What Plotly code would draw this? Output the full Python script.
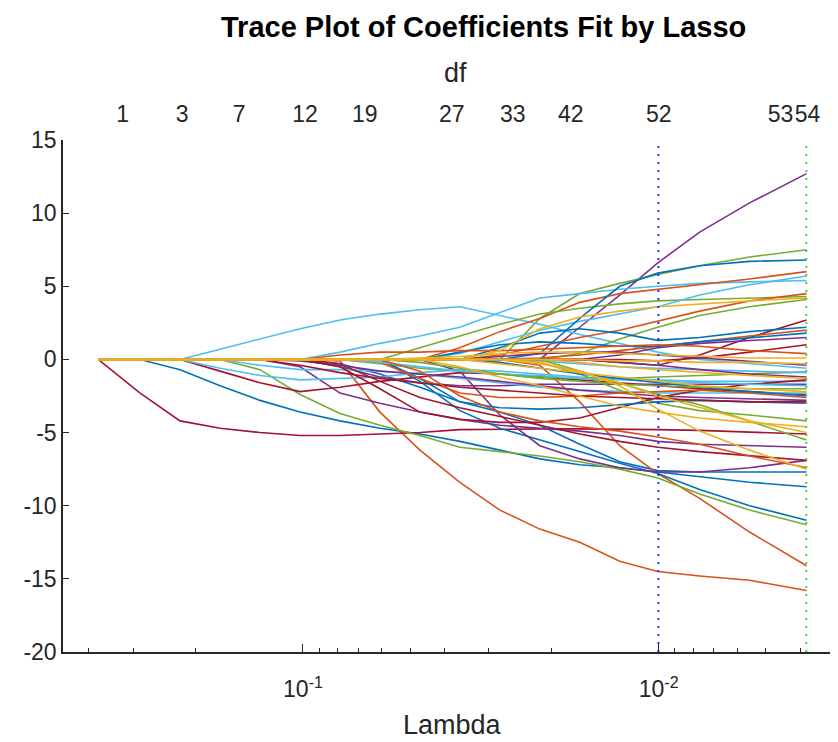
import plotly.graph_objects as go

# lambda values where the coefficient paths are sampled (largest -> smallest)
lambda_grid = [0.3765, 0.2870, 0.2216, 0.1710, 0.1321, 0.1019, 0.07871, 0.06076, 0.04690,
               0.03622, 0.02796, 0.02159, 0.01667, 0.01287, 0.01006, 0.00767, 0.005552, 0.00384]

# coefficient paths, one per predictor
b01 = [0, 0, -0.7, -1.8, -2.8, -3.6, -4.2, -4.7, -5.1, -5.6, -6.2, -6.8, -7.2, -7.4, -7.7, -8.0, -8.4, -8.7]
b02 = [0, 0, 0, 0, 0, 0, -0.1, -3.6, -6.2, -8.4, -10.3, -11.6, -12.5, -13.8, -14.5, -14.8, -15.1, -15.8]
b03 = [0, 0, 0, 0, 0, 0, 0, 0, 0, 0, 0, -0.3, -0.8, -1.8, -3.4, -4.9, -6.2, -7.5]
b04 = [0, 0, 0, 0, 0, 0, 0, 0, 0, 0, 0, 0.0, 2.2, 4.4, 6.6, 8.7, 10.7, 12.7]
b05 = [0, 0, 0, 0, 0, 0, 0, 0, 0, 0, 0.0, 2.8, 4.5, 5.2, 5.8, 6.4, 7.0, 7.5]
b06 = [0, 0, 0, 0.7, 1.4, 2.1, 2.7, 3.1, 3.4, 3.6, 3.0, 2.4, 1.7, 1.1, 0.5, 0.0, -0.3, -0.6]
b07 = [0, -2.3, -4.2, -4.7, -5.0, -5.2, -5.2, -5.1, -5.0, -4.8, -4.75, -4.75, -4.75, -4.75, -4.8, -4.85, -4.95, -5.1]

b08 = [0, 0, 0, 0, 0, 0, -0.3, -1.0, -1.9, -2.9, -3.6, -4.5, -5.8, -7.0, -7.6, -7.7, -7.7, -7.7]
b09 = [0, 0, 0, 0, 0, 0, 0, 0, 0, 0, 0, -0.4, -2.9, -5.9, -7.8, -9.5, -11.8, -14.1]
b10 = [0, 0, 0, 0, 0, 0, 0, 0, 0, -0.5, -1.2, -1.8, -2.5, -3.2, -3.6, -4.0, -4.3, -4.6]
b11 = [0, 0, 0, 0, 0, -0.5, -2.3, -3.0, -3.6, -4.1, -4.5, -4.7, -4.9, -5.2, -5.6, -5.8, -5.9, -6.0]
b12 = [0, 0, 0, 0, -0.7, -2.4, -3.7, -4.5, -5.2, -6.0, -6.3, -6.6, -7.0, -7.5, -8.1, -9.2, -10.3, -11.3]
b13 = [0, 0, 0, 0, 0, 0, 0.5, 1.1, 1.6, 2.2, 3.2, 4.2, 4.5, 4.8, 5.0, 5.2, 5.3, 5.4]
b14 = [0, 0, 0, -0.8, -1.6, -2.2, -1.9, -1.5, -1.2, -0.9, -1.0, -1.2, -1.4, -1.6, -1.8, -2.0, -2.2, -2.4]

b15 = [0, 0, 0, 0, 0, 0, 0, 0, -1.5, -3.5, -4.7, -5.5, -6.3, -7.1, -7.8, -8.9, -10.0, -11.0]
b16 = [0, 0, 0, 0, 0, 0, 0, 0, 0.0, 0.8, 1.9, 2.8, 3.9, 4.5, 4.8, 5.1, 5.5, 6.0]
b17 = [0, 0, 0, 0, 0, 0, 0, 0, 0, 0, 0.6, 2.1, 2.9, 3.3, 3.6, 3.8, 4.0, 4.2]
b18 = [0, 0, 0, 0, 0, 0, 0, 0, 0, -0.8, -3.8, -5.9, -6.8, -7.4, -7.7, -7.7, -7.4, -6.9]
b19 = [0, 0, 0, 0, 0, 0, 0, 0, 0.8, 1.6, 2.4, 3.1, 3.5, 3.8, 4.0, 4.1, 4.2, 4.3]
b20 = [0, 0, 0, 0, 0, 0, 0, 0, 0, 0.4, 1.2, 2.0, 2.6, 3.1, 3.6, 4.4, 5.1, 5.7]
b21 = [0, 0, 0, 0, 0, 0, 0, 0, 0, 0, 0, 0, 0, -0.2, -0.4, 0.3, 1.5, 2.7]

b22 = [0, 0, 0, 0, 0, 0, 0, 0, 0, 0, 0, 0.4, 2.8, 5.0, 5.9, 6.4, 6.7, 6.8]
b23 = [0, 0, 0, 0, 0, 0, 0, 0, 0, 0, 0.3, 0.9, 1.5, 2.0, 2.6, 3.3, 4.0, 4.5]
b24 = [0, 0, 0, 0, 0, 0, 0, 0, 0.1, 0.2, 0.4, 0.5, 0.5, 0.4, 0.3, 0.2, 0.1, 0.1]
b25 = [0, 0, 0, 0, 0, 0, 0, 0, 0, 0, 0, 0, 0, 0.3, 0.8, 1.1, 1.3, 1.5]
b26 = [0, 0, 0, 0, 0, 0, 0, 0, 0, 0, 0, 0, 0.4, 1.4, 2.2, 3.0, 3.6, 4.1]
b27 = [0, 0, 0, -0.6, -1.1, -1.4, -1.3, -1.2, -0.9, -0.7, -0.8, -1.0, -1.2, -1.3, -1.4, -1.5, -1.5, -1.5]
b28 = [0, 0, 0, 0, 0, 0, 0, 0, 0, 0, 0, 0, 0, 0, -0.1, 0.1, 0.5, 1.0]

b29 = [0, 0, 0, 0, 0, 0, 0, 0, 0, 0, 0.8, 1.8, 2.1, 1.8, 1.3, 1.5, 1.9, 2.2]
b30 = [0, 0, 0, 0, 0, 0, 0, 0, 0, 0, 0, 0.1, 0.3, 0.6, 0.9, 1.2, 1.6, 2.0]
b31 = [0, 0, 0, 0, 0, 0, 0, 0, 0, 0, 0, 0, -0.2, -0.5, -0.7, -0.9, -1.1, -1.3]
b32 = [0, 0, 0, 0, 0, 0, -0.5, -1.2, -1.6, -1.8, -1.8, -1.7, -1.7, -1.7, -1.7, -1.7, -1.7, -1.7]
b33 = [0, 0, 0, 0, 0, 0, 0, -0.3, -0.6, -0.8, -1.0, -1.2, -1.3, -1.3, -1.2, -1.1, -1.0, -0.85]
b34 = [0, 0, 0, 0, -0.4, -0.7, -0.7, -0.8, -1.0, -1.3, -1.6, -1.9, -2.1, -2.2, -2.3, -2.3, -2.3, -2.3]
b35 = [0, 0, 0, 0, 0, 0, -0.3, -1.5, -2.6, -3.3, -3.9, -4.5, -5.1, -5.6, -6.0, -6.3, -6.6, -6.9]

b36 = [0, 0, 0, 0, 0, 0, 0, 0, 0, 0.5, 1.0, 1.2, 1.1, 0.9, 0.9, 1.2, 1.5, 1.8]
b37 = [0, 0, 0, 0, 0, 0, 0.3, 0.5, 0.5, 0.6, 0.6, 0.7, 0.8, 0.9, 1.0, 0.9, 0.6, 0.4]
b38 = [0, 0, 0, 0, 0, 0, 0, 0, 0, 0, 0, -0.2, -0.9, -1.6, -2.5, -3.3, -4.2, -5.0]
b39 = [0, 0, 0, 0, 0, -0.1, -0.4, -0.8, -1.0, -1.2, -1.5, -1.8, -2.1, -2.3, -2.5, -2.6, -2.7, -2.8]
b40 = [0, 0, 0, 0, 0, 0, 0, 0, 0, 0, 0, -0.2, -1.0, -2.1, -3.0, -3.5, -3.8, -4.2]
b41 = [0, 0, 0, 0, 0, 0, 0, 0, 0, 0, 0, -0.1, -0.3, -0.5, -0.6, -0.7, -0.8, -0.9]
b42 = [0, 0, 0, 0, 0, 0, -0.5, -2.0, -3.6, -4.1, -4.3, -4.3, -4.0, -3.3, -2.6, -2.1, -1.7, -1.4]

b43 = [0, 0, 0, 0, 0, 0, 0, 0, -1.3, -2.9, -3.3, -3.4, -3.3, -3.1, -2.9, -2.8, -2.9, -3.0]
b44 = [0, 0, 0, 0, 0, 0, 0, -0.2, -1.3, -2.3, -2.6, -2.6, -2.5, -2.3, -2.2, -2.1, -2.3, -2.6]
b45 = [0, 0, 0, 0, 0, 0, 0, 0, 0, 0, 0, 0, 0, -0.1, -0.1, -0.2, -0.2, -0.3]
b46 = [0, 0, 0, 0, 0, 0, 0, 0, 0, 0, 0.2, 0.4, 0.5, 0.5, 0.3, 0.1, -0.1, -0.4]
b47 = [0, 0, 0, 0, 0, 0, 0, 0, 0, 0, 0, 0, -0.8, -1.6, -2.4, -3.1, -4.2, -5.5]
b48 = [0, 0, 0, 0, 0, 0, 0, -0.2, -0.5, -0.8, -1.0, -1.1, -1.3, -1.4, -1.5, -1.6, -1.7, -1.8]
b49 = [0, 0, 0, 0, 0, -0.4, -0.9, -1.3, -1.6, -1.9, -2.1, -2.3, -2.5, -2.6, -2.7, -2.8, -2.9, -2.9]

b50 = [0, 0, 0, 0, 0, 0, 0, 0, 0, 0, -0.2, -0.6, -1.0, -1.3, -1.6, -1.9, -2.2, -2.5]
b51 = [0, 0, 0, 0, 0, 0, 0, 0, -0.8, -2.5, -3.6, -4.2, -4.6, -4.9, -5.3, -5.8, -6.6, -7.4]
b52 = [0, 0, 0, 0, 0, 0, 0, 0, 0, 0, -0.3, -0.6, -0.9, -1.2, -1.5, -1.8, -2.0, -2.2]
b53 = [0, 0, 0, 0, 0, 0, 0, 0, 0, 0, 0, 0, 0, -0.2, -0.4, -0.7, -1.0, -1.2]
b54 = [0, 0, 0, 0, 0, 0, 0, 0, -0.2, -0.6, -1.0, -1.3, -1.5, -1.7, -1.8, -1.9, -2.0, -2.0]

coef_paths = [b01, b02, b03, b04, b05, b06, b07, b08, b09, b10, b11, b12, b13, b14,
              b15, b16, b17, b18, b19, b20, b21, b22, b23, b24, b25, b26, b27, b28,
              b29, b30, b31, b32, b33, b34, b35, b36, b37, b38, b39, b40, b41, b42,
              b43, b44, b45, b46, b47, b48, b49, b50, b51, b52, b53, b54]

# top axis: degrees of freedom
df_lambda = [0.3214, 0.2187, 0.1513, 0.0987, 0.0670, 0.03815, 0.02571, 0.01767, 0.0100, 0.004544, 0.003815]
df_labels = ["1", "3", "7", "12", "19", "27", "33", "42", "52", "53", "54"]

lambda_1se = 0.01002
lambda_min_mse = 0.003846

y_ticks = [-20, -15, -10, -5, 0, 5, 10, 15]
lambda_minor = [0.4, 0.3, 0.2, 0.09, 0.08, 0.07, 0.06, 0.05, 0.04, 0.03, 0.02,
                0.009, 0.008, 0.007, 0.006, 0.005, 0.004]

matlab_colors = ["#0072BD", "#D95319", "#EDB120", "#7E2F8E", "#77AC30", "#4DBEEE", "#A2142F"]
FONT = "Liberation Sans, Arial, Helvetica, sans-serif"
AXC = "#262626"
x_range = [-0.3253, -2.5041]
y_range = [y_ticks[0], y_ticks[-1]]

fig = go.Figure()
# yellow paths drawn last so they sit on top along zero
order = sorted(range(len(coef_paths)), key=lambda i: i % 7 == 2)
for i in order:
    fig.add_trace(go.Scatter(x=lambda_grid, y=coef_paths[i], mode="lines",
                             line=dict(color=matlab_colors[i % 7], width=1.6),
                             showlegend=False, hoverinfo="skip"))

# dotted reference lines at the selected lambdas
fig.add_trace(go.Scatter(x=[lambda_1se, lambda_1se], y=y_range, mode="lines",
                         line=dict(color="#2a2aff", width=2, dash="2px,6px"),
                         showlegend=False, hoverinfo="skip"))
fig.add_trace(go.Scatter(x=[lambda_min_mse, lambda_min_mse], y=y_range, mode="lines",
                         line=dict(color="#3ad63a", width=2, dash="2px,6px"),
                         showlegend=False, hoverinfo="skip", cliponaxis=False))

# the page body adds an 8px margin, so the figure is sized/offset to compensate
fig.update_layout(
    width=830, height=734,
    margin=dict(l=55, r=0, t=132, b=90, autoexpand=False),
    plot_bgcolor="white", paper_bgcolor="white",
    font=dict(family=FONT, color=AXC, size=23),
    showlegend=False,
    xaxis=dict(type="log", range=x_range, showgrid=False, zeroline=False, automargin=False,
               showline=True, linecolor=AXC, linewidth=1.5, mirror=False,
               ticks="inside", ticklen=8, tickwidth=1.2, tickcolor=AXC,
               tickvals=[0.1, 0.01], ticktext=["10<sup>-1</sup>", "10<sup>-2</sup>"],
               minor=dict(tickvals=lambda_minor, ticks="inside", ticklen=4,
                          tickwidth=1, tickcolor=AXC, showgrid=False),
               tickfont=dict(size=23), ticklabelstandoff=16),
    xaxis2=dict(type="log", range=x_range, overlaying="x", side="top", anchor="y",
                automargin=False, showgrid=False, zeroline=False, showline=False, ticks="",
                tickvals=df_lambda, ticktext=df_labels, tickangle=0,
                tickfont=dict(size=23), ticklabelstandoff=12),
    yaxis=dict(range=y_range, showgrid=False, zeroline=False, automargin=False,
               showline=True, linecolor=AXC, linewidth=1.5, mirror=False,
               ticks="inside", ticklen=6, tickwidth=1.2, tickcolor=AXC,
               tickvals=y_ticks, ticktext=[str(v) for v in y_ticks],
               tickfont=dict(size=23)),
)
fig.add_trace(go.Scatter(x=df_lambda, y=[None] * len(df_lambda), xaxis="x2",
                         mode="lines", showlegend=False, hoverinfo="skip"))

fig.add_annotation(text="<b>Trace Plot of Coefficients Fit by Lasso</b>", xref="paper", yref="paper",
                   x=0.542, y=1.2207, showarrow=False, font=dict(size=29, color="black"),
                   xanchor="center", yanchor="middle")
fig.add_annotation(text="df", xref="paper", yref="paper", x=0.506, y=1.131,
                   showarrow=False, font=dict(size=27), xanchor="center", yanchor="middle")
fig.add_annotation(text="Lambda", xref="paper", yref="paper", x=0.502, y=-0.1426,
                   showarrow=False, font=dict(size=27), xanchor="center", yanchor="middle")

fig.write_html("out.html")
